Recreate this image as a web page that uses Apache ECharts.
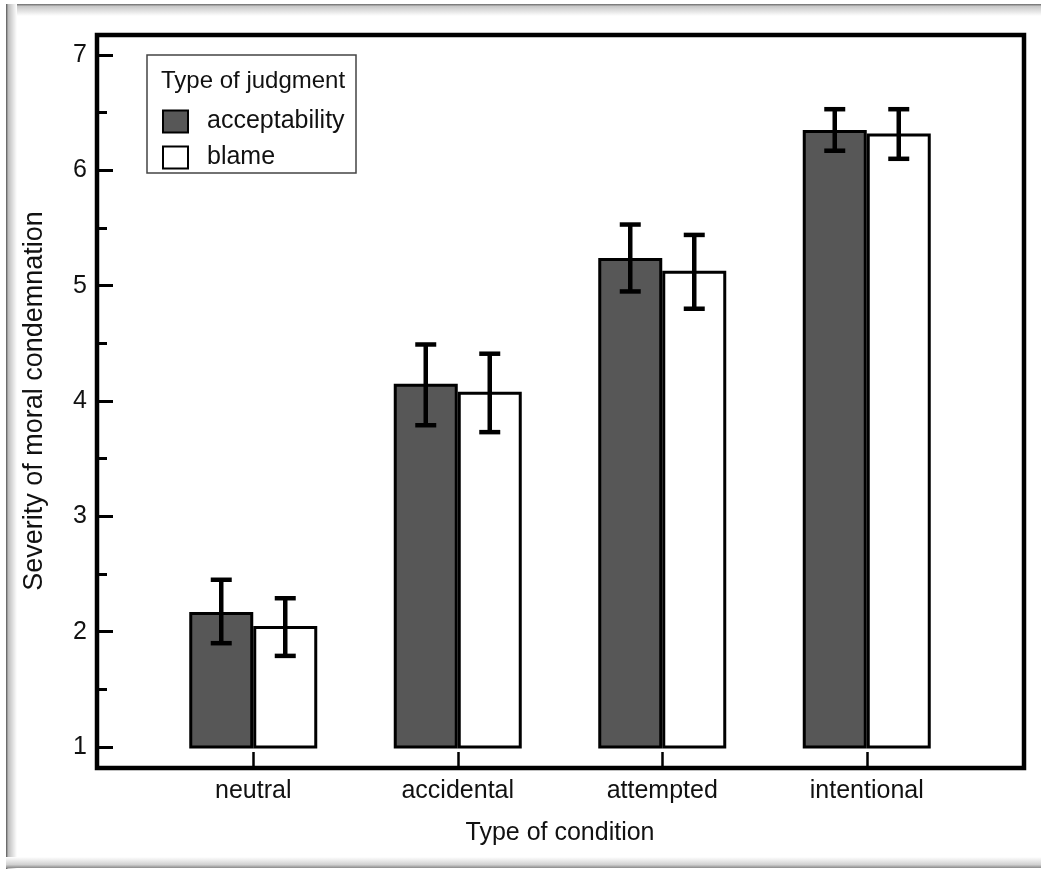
<!DOCTYPE html>
<html>
<head>
<meta charset="utf-8">
<script src="https://cdn.jsdelivr.net/npm/echarts@6/dist/echarts.min.js"></script>
<style>
html,body{margin:0;padding:0;background:#fff;}
#chart{width:1041px;height:871px;}
</style>
</head>
<body>
<div id="chart"></div>
<script>
// ---- data ----
const categories = ['neutral', 'accidental', 'attempted', 'intentional'];
const seriesNames = ['acceptability', 'blame'];
const acceptability = [2.17, 4.15, 5.24, 6.35];
const acceptabilityLow = [1.90, 3.79, 4.95, 6.17];
const acceptabilityHigh = [2.45, 4.49, 5.53, 6.53];
const blame = [2.05, 4.08, 5.13, 6.32];
const blameLow = [1.79, 3.73, 4.80, 6.10];
const blameHigh = [2.29, 4.41, 5.44, 6.53];
const yMin = 1, yMax = 7, yInterval = 1;

// ---- style ----
const FONT = 'Liberation Sans, Arial, sans-serif';
const BAR_W = 64;
const DARK = '#575757';
const FS = 25;

const chart = echarts.init(document.getElementById('chart'), null, {renderer: 'canvas'});

function errData(low, high) {
  return categories.map((c, i) => [i, low[i], high[i]]);
}
function errRender(offset) {
  return function (params, api) {
    const lo = api.coord([api.value(0), api.value(1)]);
    const hi = api.coord([api.value(0), api.value(2)]);
    const x = lo[0] + offset;
    const cap = 10.5;
    const st = {stroke: '#000', lineWidth: 4.5};
    return {
      type: 'group',
      children: [
        {type: 'line', shape: {x1: x, y1: lo[1], x2: x, y2: hi[1]}, style: st},
        {type: 'line', shape: {x1: x - cap, y1: lo[1], x2: x + cap, y2: lo[1]}, style: st},
        {type: 'line', shape: {x1: x - cap, y1: hi[1], x2: x + cap, y2: hi[1]}, style: st}
      ]
    };
  };
}

const option = {
  animation: false,
  backgroundColor: '#fff',
  grid: {left: 151, right: 72, top: 55, bottom: 124, containLabel: false},
  graphic: [
    // outer frame shading
    {type: 'rect', z: 0, shape: {x: 6, y: 4, width: 1035, height: 12},
      style: {fill: new echarts.graphic.LinearGradient(0, 0, 0, 1, [
        {offset: 0, color: '#6a6a6a'}, {offset: 0.2, color: '#c8c8c8'}, {offset: 1, color: '#ffffff'}])}},
    {type: 'rect', z: 0, shape: {x: 6, y: 4, width: 11, height: 865},
      style: {fill: new echarts.graphic.LinearGradient(0, 0, 1, 0, [
        {offset: 0, color: '#555555'}, {offset: 0.2, color: '#bdbdbd'}, {offset: 1, color: '#ffffff'}])}},
    {type: 'rect', z: 0, shape: {x: 6, y: 857, width: 1035, height: 11},
      style: {fill: new echarts.graphic.LinearGradient(0, 0, 0, 1, [
        {offset: 0, color: '#ffffff'}, {offset: 0.7, color: '#d0d0d0'}, {offset: 1, color: '#8a8a8a'}])}},
    // plot frame
    {type: 'rect', z: 50, shape: {x: 97, y: 35, width: 927, height: 733},
      style: {fill: 'none', stroke: '#000', lineWidth: 4.5}},
    // legend box + title
    {type: 'rect', z: 40, shape: {x: 147, y: 55, width: 209, height: 118},
      style: {fill: '#fff', stroke: '#444', lineWidth: 1.5}},
    {type: 'text', z: 41, left: 161, top: 69,
      style: {text: 'Type of judgment', font: '24px ' + FONT, fill: '#111'}}
  ],
  legend: {
    data: seriesNames,
    orient: 'vertical',
    left: 157, top: 104,
    itemWidth: 25, itemHeight: 22, itemGap: 11,
    icon: 'rect',
    z: 45,
    textStyle: {fontFamily: FONT, fontSize: 25, color: '#111', padding: [0, 0, 0, 14]}
  },
  xAxis: {
    type: 'category',
    data: categories,
    offset: 20,
    axisLine: {show: false},
    axisTick: {show: true, inside: true, alignWithLabel: true, length: 15, lineStyle: {color: '#000', width: 2.5}},
    axisLabel: {fontFamily: FONT, fontSize: FS, color: '#111', margin: 12},
    name: 'Type of condition',
    nameLocation: 'middle',
    nameGap: 54,
    nameTextStyle: {fontFamily: FONT, fontSize: FS, color: '#111'},
    splitLine: {show: false}
  },
  yAxis: {
    type: 'value',
    min: yMin, max: yMax, interval: yInterval,
    offset: 54,
    axisLine: {show: false},
    axisTick: {show: true, inside: true, length: 16, lineStyle: {color: '#000', width: 3}},
    minorTick: {show: true, splitNumber: 2, length: 10, lineStyle: {color: '#000', width: 3}},
    axisLabel: {fontFamily: FONT, fontSize: FS, color: '#111', margin: 10},
    splitLine: {show: false},
    name: 'Severity of moral condemnation',
    nameLocation: 'middle',
    nameGap: 49,
    nameTextStyle: {fontFamily: FONT, fontSize: 27, color: '#111'}
  },
  series: [
    {name: seriesNames[0], type: 'bar', data: acceptability, barWidth: BAR_W, barGap: '0%',
      itemStyle: {color: DARK, borderColor: '#000', borderWidth: 3}, z: 5},
    {name: seriesNames[1], type: 'bar', data: blame, barWidth: BAR_W, barGap: '0%',
      itemStyle: {color: '#fff', borderColor: '#000', borderWidth: 3}, z: 5},
    {type: 'custom', data: errData(acceptabilityLow, acceptabilityHigh), renderItem: errRender(-BAR_W / 2), z: 10, silent: true},
    {type: 'custom', data: errData(blameLow, blameHigh), renderItem: errRender(BAR_W / 2), z: 10, silent: true}
  ]
};
chart.setOption(option);
</script>
</body>
</html>
